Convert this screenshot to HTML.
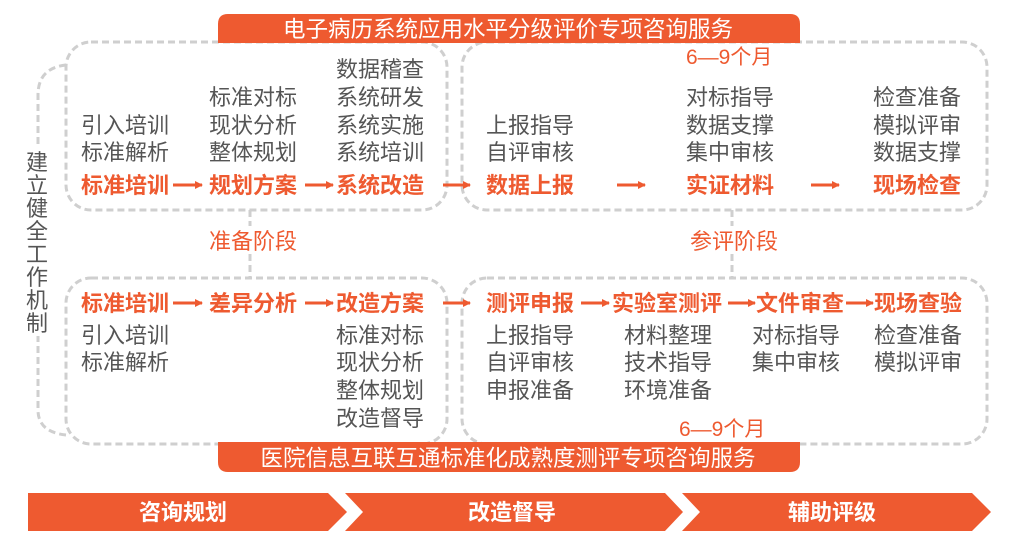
<!DOCTYPE html>
<html><head><meta charset="utf-8"><style>
body{margin:0;background:#fff}
svg{display:block}
text{font-family:"Liberation Sans","Noto Sans CJK SC",sans-serif;font-size:22px}
.g{fill:#555}
.o{fill:#EE5A30;font-weight:bold}
.on{fill:#EE5A30}
.w{fill:#fff}
.d{fill:none;stroke:#cfcfcf;stroke-width:3;stroke-dasharray:7,4}
</style></head><body>
<svg width="1020" height="550" viewBox="0 0 1020 550">
<defs><marker id="a" markerWidth="8" markerHeight="8" refX="7" refY="4" orient="auto" markerUnits="userSpaceOnUse"><path d="M0,0 L8,4 L0,8 Z" fill="#EE5A30"/></marker></defs>
<path class="d" d="M66,65 Q38,68 38,95 L38,410 Q38,432 66,435"/>
<rect class="d" x="66" y="42" width="381" height="168" rx="25"/>
<rect class="d" x="462" y="42" width="525" height="168" rx="25"/>
<rect class="d" x="66" y="278" width="381" height="166" rx="25"/>
<rect class="d" x="462" y="278" width="525" height="166" rx="25"/>
<line class="d" x1="250" y1="210" x2="250" y2="278"/>
<line class="d" x1="732" y1="210" x2="732" y2="278"/>
<rect x="205" y="226" width="96" height="28" fill="#fff"/>
<rect x="686" y="226" width="94" height="28" fill="#fff"/>
<path d="M218,43 L218,24 Q218,14 228,14 L790,14 Q800,14 800,24 L800,43 Z" fill="#EE5A30"/>
<path d="M218,442 L800,442 L800,462 Q800,472 790,472 L228,472 Q218,472 218,462 Z" fill="#EE5A30"/>
<text class="w" x="508" y="37" text-anchor="middle" style="font-size:22.5px">电子病历系统应用水平分级评价专项咨询服务</text>
<text class="w" x="508" y="466" text-anchor="middle" style="font-size:22.5px">医院信息互联互通标准化成熟度测评专项咨询服务</text>
<rect x="26" y="148" width="24" height="188" fill="#fff"/>
<g class="g" style="font-size:22px">
<text x="26" y="170">建</text><text x="26" y="193">立</text><text x="26" y="216">健</text><text x="26" y="239">全</text><text x="26" y="262">工</text><text x="26" y="285">作</text><text x="26" y="308">机</text><text x="26" y="331">制</text>
</g>
<g class="g">
<text x="81" y="133">引入培训</text><text x="81" y="160">标准解析</text>
<text x="209" y="105">标准对标</text><text x="209" y="133">现状分析</text><text x="209" y="160">整体规划</text>
<text x="336" y="77">数据稽查</text><text x="336" y="105">系统研发</text><text x="336" y="133">系统实施</text><text x="336" y="160">系统培训</text>
<text x="486" y="133">上报指导</text><text x="486" y="160">自评审核</text>
<text x="686" y="105">对标指导</text><text x="686" y="133">数据支撑</text><text x="686" y="160">集中审核</text>
<text x="873" y="105">检查准备</text><text x="873" y="133">模拟评审</text><text x="873" y="160">数据支撑</text>
</g>
<g class="o">
<text x="81" y="193">标准培训</text><text x="209" y="193">规划方案</text><text x="336" y="193">系统改造</text>
<text x="486" y="193">数据上报</text><text x="686" y="193">实证材料</text><text x="873" y="193">现场检查</text>
<text x="81" y="311">标准培训</text><text x="209" y="311">差异分析</text><text x="336" y="311">改造方案</text>
<text x="486" y="311">测评申报</text><text x="612" y="311">实验室测评</text><text x="756" y="311">文件审查</text><text x="874" y="311">现场查验</text>
</g>
<text class="on" x="209" y="249">准备阶段</text>
<text class="on" x="690" y="249">参评阶段</text>
<text class="on" x="686" y="64" style="font-size:21px">6—9个月</text>
<text class="on" x="679" y="436" style="font-size:21px">6—9个月</text>
<g stroke="#EE5A30" stroke-width="3" marker-end="url(#a)">
<line x1="173" y1="185" x2="202" y2="185"/><line x1="305" y1="185" x2="333" y2="185"/><line x1="443" y1="185" x2="470" y2="185"/>
<line x1="617" y1="185" x2="645" y2="185"/><line x1="811" y1="185" x2="839" y2="185"/>
<line x1="173" y1="303" x2="202" y2="303"/><line x1="305" y1="303" x2="333" y2="303"/><line x1="443" y1="303" x2="470" y2="303"/>
<line x1="581" y1="303" x2="609" y2="303"/><line x1="728" y1="303" x2="755" y2="303"/><line x1="846" y1="303" x2="873" y2="303"/>
</g>
<g class="g">
<text x="81" y="343">引入培训</text><text x="81" y="370">标准解析</text>
<text x="336" y="343">标准对标</text><text x="336" y="370">现状分析</text><text x="336" y="398">整体规划</text><text x="336" y="426">改造督导</text>
<text x="486" y="343">上报指导</text><text x="486" y="370">自评审核</text><text x="486" y="398">申报准备</text>
<text x="624" y="343">材料整理</text><text x="624" y="370">技术指导</text><text x="624" y="398">环境准备</text>
<text x="752" y="343">对标指导</text><text x="752" y="370">集中审核</text>
<text x="874" y="343">检查准备</text><text x="874" y="370">模拟评审</text>
</g>
<path d="M28,493 L328,493 L347,512 L328,531 L28,531 Z" fill="#EE5A30"/>
<path d="M345,493 L665,493 L683,512 L665,531 L345,531 L363,512 Z" fill="#EE5A30"/>
<path d="M682,493 L972,493 L991,512 L972,531 L682,531 L700,512 Z" fill="#EE5A30"/>
<text class="w" x="183" y="520" text-anchor="middle" style="font-weight:bold">咨询规划</text>
<text class="w" x="512" y="520" text-anchor="middle" style="font-weight:bold">改造督导</text>
<text class="w" x="832" y="520" text-anchor="middle" style="font-weight:bold">辅助评级</text>
</svg>
</body></html>
